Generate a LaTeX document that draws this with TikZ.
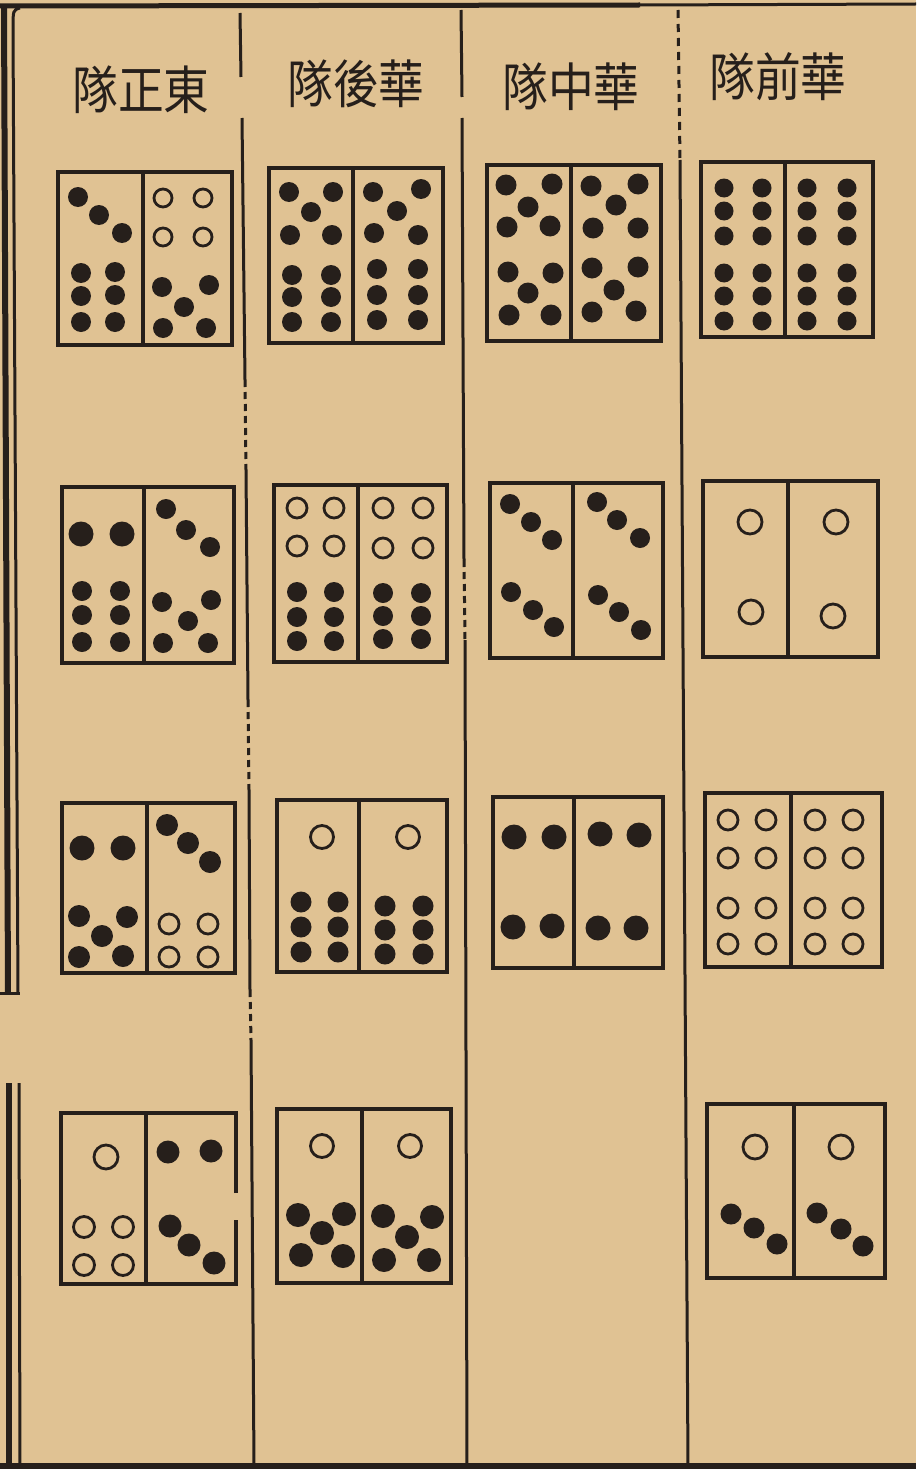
\documentclass[tikz,border=0pt]{standalone}
\usepackage{fontspec}
\newfontfamily\cjk{Noto Sans CJK TC}
\definecolor{paper}{RGB}{224,194,147}
\definecolor{ink}{RGB}{38,31,27}
\newcommand\tileR[5]{\draw[tile] (#1,#2) rectangle (#3,#4); \draw[tile] (#5,#2) -- (#5,#4);}
\begin{document}
\begin{tikzpicture}[x=1pt,y=-1pt,
  tile/.style={draw=ink,line width=3.6pt},
  rulel/.style={draw=ink,line width=3pt},
  ring/.style={draw=ink,line width=2.8pt},
  hdr/.style={font=\cjk\fontsize{52}{52}\selectfont,text=ink,inner sep=0pt,xscale=0.88}]
\fill[paper] (0,0) rectangle (916,1469);
\useasboundingbox (0,0) rectangle (916,1469);
% frame
\draw[ink,line width=5pt] (0,6) -- (640,5);
\draw[ink,line width=3pt] (640,5) -- (916,4);
\draw[ink,line width=6pt] (0,1466) -- (916,1466);
\draw[ink,line width=6pt] (4,5) -- (8,993);
\draw[ink,line width=6pt] (9,1083) -- (9,1469);
\draw[ink,line width=3pt] (20,8) .. controls (13,10) .. (13,30) -- (18,993);
\draw[ink,line width=3pt] (19,1083) -- (20,1469);
\draw[ink,line width=3pt] (0,993) -- (20,993);
% column separators
\draw[rulel] (240,13) -- (241,77);
\draw[rulel] (242,118) -- (245,380);
\draw[rulel,dash pattern=on 7pt off 5pt] (245,380) -- (246,470);
\draw[rulel] (246,470) -- (248,700);
\draw[rulel,dash pattern=on 7pt off 5pt] (248,700) -- (249,790);
\draw[rulel] (249,790) -- (250,990);
\draw[rulel,dash pattern=on 7pt off 5pt] (250,990) -- (251,1040);
\draw[rulel] (251,1040) -- (254,1466);
\draw[rulel] (461,10) -- (462,97);
\draw[rulel] (462,118) -- (464,560);
\draw[rulel,dash pattern=on 7pt off 5pt] (464,560) -- (465,640);
\draw[rulel] (465,640) -- (467,1466);
\draw[rulel,dash pattern=on 8pt off 6pt] (678,10) -- (680,160);
\draw[rulel] (680,160) -- (688,1466);
% headers
\node[hdr] (h1) at (141,90) {隊正東};
\node[hdr] (h2) at (356,84) {隊後華};
\node[hdr] (h3) at (571,87) {隊中華};
\node[hdr] (h4) at (778,77) {隊前華};
% ---------- row 1 ----------
\tileR{58}{172}{232}{345}{143}
\foreach \p in {(78,197),(99,215),(122,233),(81,273),(115,272),(81,296),(115,295),(81,322),(115,322),(162,287),(209,285),(184,307),(163,328),(206,328)}
  {\fill[ink] \p circle[radius=10];}
\foreach \p in {(163,198),(203,198),(163,237),(203,237)}
  {\draw[ring] \p circle[radius=9];}
\tileR{269}{168}{443}{343}{353}
\foreach \p in {(289,192),(333,192),(311,212),(290,235),(332,235),(292,275),(331,275),(292,297),(331,297),(292,322),(331,322),(373,192),(421,189),(397,211),(374,233),(418,235),(377,269),(418,269),(377,295),(418,295),(377,320),(418,320)}
  {\fill[ink] \p circle[radius=10];}
\tileR{487}{165}{661}{341}{571}
\foreach \p in {(506,185),(552,184),(528,207),(507,227),(550,226),(508,272),(553,273),(528,293),(509,315),(551,315),(591,186),(638,184),(616,205),(593,228),(638,228),(592,268),(638,267),(614,290),(592,312),(636,311)}
  {\fill[ink] \p circle[radius=10.5];}
\tileR{701}{162}{873}{337}{785}
\foreach \x in {724,762,807,847} \foreach \y in {188,211,236,273,296,321}
  {\fill[ink] (\x,\y) circle[radius=9.5];}
% ---------- row 2 ----------
\tileR{62}{487}{234}{663}{144}
\foreach \p in {(81,534),(122,534)} {\fill[ink] \p circle[radius=12.5];}
\foreach \p in {(82,591),(120,591),(82,615),(120,615),(82,642),(120,642),(166,509),(186,530),(210,547),(162,602),(211,600),(188,621),(163,643),(208,643)}
  {\fill[ink] \p circle[radius=10];}
\tileR{274}{485}{447}{662}{358}
\foreach \p in {(297,508),(334,508),(297,546),(334,546),(383,508),(423,508),(383,548),(423,548)}
  {\draw[ring] \p circle[radius=10];}
\foreach \p in {(297,592),(334,592),(297,617),(334,617),(297,641),(334,641),(383,593),(421,593),(383,616),(421,616),(383,639),(421,639)}
  {\fill[ink] \p circle[radius=10];}
\tileR{490}{483}{663}{658}{573}
\foreach \p in {(510,504),(531,522),(552,540),(511,592),(533,610),(554,627),(597,502),(617,520),(640,538),(598,595),(619,612),(641,630)}
  {\fill[ink] \p circle[radius=10];}
\tileR{703}{481}{878}{657}{788}
\foreach \p in {(750,522),(836,522),(751,612),(833,616)}
  {\draw[ring] \p circle[radius=12];}
% ---------- row 3 ----------
\tileR{62}{803}{235}{973}{147}
\foreach \p in {(82,848),(123,848)} {\fill[ink] \p circle[radius=12.5];}
\foreach \p in {(79,916),(127,917),(102,936),(79,957),(123,956),(167,825),(188,843),(210,862)}
  {\fill[ink] \p circle[radius=11];}
\foreach \p in {(169,924),(208,924),(169,957),(208,957)}
  {\draw[ring] \p circle[radius=10];}
\tileR{277}{800}{447}{972}{359}
\foreach \p in {(322,837),(408,837)} {\draw[ring] \p circle[radius=11.5];}
\foreach \p in {(301,902),(338,902),(301,927),(338,927),(301,952),(338,952),(385,906),(423,906),(385,930),(423,930),(385,954),(423,954)}
  {\fill[ink] \p circle[radius=10.5];}
\tileR{493}{797}{663}{968}{574}
\foreach \p in {(514,837),(554,837),(600,834),(639,835),(513,927),(552,926),(598,928),(636,928)}
  {\fill[ink] \p circle[radius=12.5];}
\tileR{705}{793}{882}{967}{791}
\foreach \x in {728,766,815,853} \foreach \y in {820,858,908,944}
  {\draw[ring] (\x,\y) circle[radius=10];}
% ---------- row 4 ----------
\draw[tile] (236,1193) -- (236,1113) -- (61,1113) -- (61,1284) -- (236,1284) -- (236,1220);
\draw[tile] (146,1113) -- (146,1284);
\draw[ring] (106,1157) circle[radius=12];
\foreach \p in {(84,1227),(123,1227),(84,1265),(123,1265)}
  {\draw[ring] \p circle[radius=10.5];}
\foreach \p in {(168,1152),(211,1151),(170,1226),(189,1245),(214,1263)}
  {\fill[ink] \p circle[radius=11.5];}
\tileR{277}{1109}{451}{1283}{362}
\foreach \p in {(322,1146),(410,1146)} {\draw[ring] \p circle[radius=11.5];}
\foreach \p in {(298,1215),(344,1214),(322,1233),(301,1255),(343,1256),(383,1216),(432,1217),(407,1237),(384,1260),(429,1260)}
  {\fill[ink] \p circle[radius=12];}
\tileR{707}{1104}{885}{1278}{794}
\foreach \p in {(755,1147),(841,1147)} {\draw[ring] \p circle[radius=12];}
\foreach \p in {(731,1214),(754,1228),(777,1244),(817,1213),(841,1229),(863,1246)}
  {\fill[ink] \p circle[radius=10.5];}
\end{tikzpicture}
\end{document}
